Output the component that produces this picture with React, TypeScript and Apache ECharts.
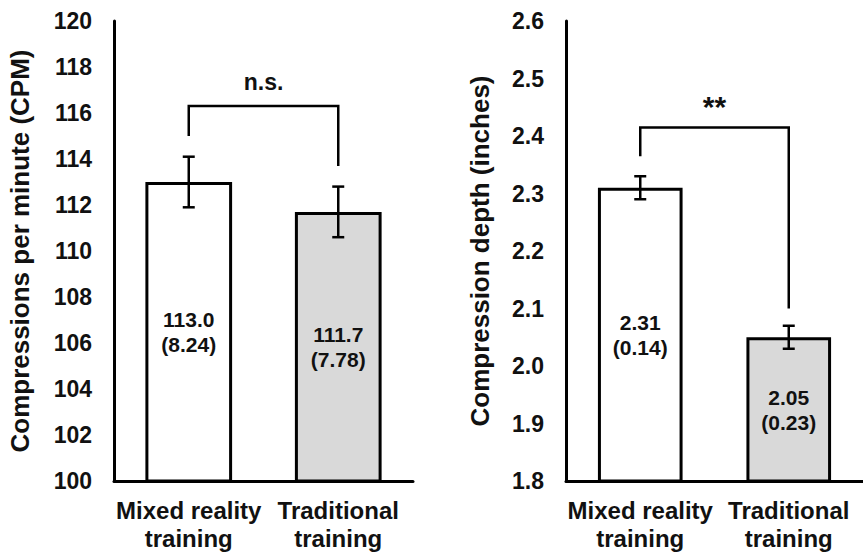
import React, { useEffect, useRef } from "react";
import * as echarts from "echarts";

const categories = ["Mixed reality\ntraining", "Traditional\ntraining"];
const cpmMeans = [113.0, 111.7];
const cpmSD = [8.24, 7.78];
const cpmErr = [1.1, 1.1];
const depthMeans = [2.31, 2.05];
const depthSD = [0.14, 0.23];
const depthErr = [0.02, 0.02];
// bracket: [top, left leg end, right leg end]
const cpmBracket = [116.3, 115.0, 113.7];
const depthBracket = [2.415, 2.365, 2.1];
const cpmSig = "n.s.";
const depthSig = "**";
const cpmRange = [100, 120, 2];
const depthRange = [1.8, 2.6, 0.1];

const FONT = "'Liberation Sans', Arial, sans-serif";
const barColors = ["#ffffff", "#d9d9d9"];

export default function App() {
  const ref = useRef<HTMLDivElement>(null);
  useEffect(() => {
    if (!ref.current) return;
    const chart = echarts.init(ref.current, null, { renderer: "svg" });

    const errRender = (params: any, api: any) => {
      const x = api.value(0);
      const lo = api.coord([x, api.value(1)]);
      const hi = api.coord([x, api.value(2)]);
      const cap = 6;
      const st = { stroke: "#000", lineWidth: 2.5 };
      return {
        type: "group",
        children: [
          { type: "line", shape: { x1: lo[0], y1: lo[1], x2: hi[0], y2: hi[1] }, style: st },
          { type: "line", shape: { x1: lo[0] - cap, y1: lo[1], x2: lo[0] + cap, y2: lo[1] }, style: st },
          { type: "line", shape: { x1: hi[0] - cap, y1: hi[1], x2: hi[0] + cap, y2: hi[1] }, style: st },
        ],
      };
    };

    const bracketRender = (text: string, fontSize: number, gap: number) => (params: any, api: any) => {
      const a = api.value(0);
      const b = api.value(1);
      const tl = api.coord([a, api.value(2)]);
      const tr = api.coord([b, api.value(2)]);
      const le = api.coord([a, api.value(3)]);
      const re = api.coord([b, api.value(4)]);
      return {
        type: "group",
        children: [
          {
            type: "polyline",
            shape: { points: [le, tl, tr, re] },
            style: { stroke: "#000", lineWidth: 2.5, fill: "none" },
          },
          {
            type: "text",
            style: {
              text,
              x: (tl[0] + tr[0]) / 2,
              y: tl[1] - gap,
              align: "center",
              verticalAlign: "middle",
              fontSize,
              fontWeight: "bold",
              fontFamily: FONT,
              fill: "#111",
            },
          },
        ],
      };
    };

    const xAxisBase = (gridIndex: number) => ({
      type: "category",
      gridIndex,
      data: categories,
      axisLine: { show: true, lineStyle: { color: "#000", width: 3 } },
      axisTick: { show: false },
      axisLabel: {
        color: "#111",
        fontSize: 24,
        fontWeight: "bold",
        fontFamily: FONT,
        lineHeight: 28,
        margin: 15,
        interval: 0,
      },
    });

    const yAxisBase = (gridIndex: number, range: number[], name: string, gap: number, dec: number) => ({
      type: "value",
      gridIndex,
      min: range[0],
      max: range[1],
      interval: range[2],
      name,
      nameLocation: "middle",
      nameGap: gap,
      nameTextStyle: { color: "#111", fontSize: 26, fontWeight: "bold", fontFamily: FONT },
      splitLine: { show: false },
      axisLine: { show: true, lineStyle: { color: "#000", width: 3 } },
      axisTick: { show: false },
      axisLabel: {
        color: "#111",
        fontSize: 23,
        fontWeight: "bold",
        fontFamily: FONT,
        margin: 22,
        formatter: (v: number) => v.toFixed(dec),
      },
    });

    const barSeries = (idx: number, means: number[], sds: number[], dec: number, bw: string) => ({
      type: "bar",
      xAxisIndex: idx,
      yAxisIndex: idx,
      barWidth: bw,
      data: means.map((m, i) => ({
        value: m,
        itemStyle: { color: barColors[i], borderColor: "#000", borderWidth: 3 },
        label: {
          show: true,
          position: "inside",
          formatter: `${m.toFixed(dec)}\n(${sds[i].toFixed(2)})`,
          color: "#111",
          fontSize: 21,
          fontWeight: "bold",
          fontFamily: FONT,
          lineHeight: 25,
        },
      })),
      z: 2,
    });

    chart.setOption({
      animation: false,
      backgroundColor: "#fff",
      grid: [
        { left: 114, top: 21, width: 299, height: 461 },
        { left: 566, top: 21, width: 308, height: 461 },
      ],
      xAxis: [xAxisBase(0), xAxisBase(1)],
      yAxis: [
        yAxisBase(0, cpmRange, "Compressions per minute (CPM)", 81, 0),
        yAxisBase(1, depthRange, "Compression depth (inches)", 73, 1),
      ],
      series: [
        barSeries(0, cpmMeans, cpmSD, 1, "58%"),
        barSeries(1, depthMeans, depthSD, 2, "57%"),
        {
          type: "custom",
          xAxisIndex: 0,
          yAxisIndex: 0,
          renderItem: errRender,
          encode: { x: 0, y: [1, 2] },
          data: cpmMeans.map((m, i) => [i, m - cpmErr[i], m + cpmErr[i]]),
          z: 5,
        },
        {
          type: "custom",
          xAxisIndex: 1,
          yAxisIndex: 1,
          renderItem: errRender,
          encode: { x: 0, y: [1, 2] },
          data: depthMeans.map((m, i) => [i, m - depthErr[i], m + depthErr[i]]),
          z: 5,
        },
        {
          type: "custom",
          xAxisIndex: 0,
          yAxisIndex: 0,
          renderItem: bracketRender(cpmSig, 23, 24),
          encode: { x: [0, 1], y: [2, 3, 4] },
          data: [[0, 1, ...cpmBracket]],
          z: 5,
        },
        {
          type: "custom",
          xAxisIndex: 1,
          yAxisIndex: 1,
          renderItem: bracketRender(depthSig, 30, 21),
          encode: { x: [0, 1], y: [2, 3, 4] },
          data: [[0, 1, ...depthBracket]],
          z: 5,
        },
      ],
    });
    return () => chart.dispose();
  }, []);
  return (
    <div
      ref={ref}
      style={{ position: "absolute", left: 0, top: 0, width: 863, height: 552 }}
    />
  );
}
